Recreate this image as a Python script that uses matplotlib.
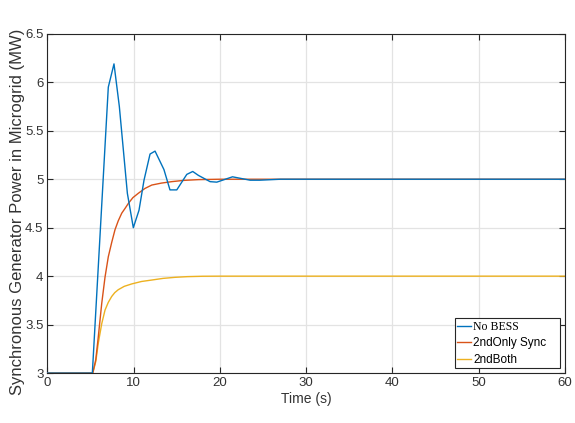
import matplotlib
matplotlib.use("Agg")
import matplotlib.pyplot as plt

# Synchronous generator output (MW) versus time (s)
t_nobess = [0, 5.2, 7.05, 7.71, 8.33, 9.26, 9.95, 10.61, 11.19, 11.89, 12.47,
            13.5, 14.2, 14.99, 16.15, 16.84, 17.49, 18.85, 19.63, 21.45,
            23.5, 24.6, 27.0, 60]
p_nobess = [3.0, 3.0, 5.95, 6.19, 5.75, 4.855, 4.50, 4.68, 4.99, 5.26, 5.29,
            5.10, 4.89, 4.89, 5.05, 5.08, 5.04, 4.975, 4.97, 5.025,
            4.99, 4.99, 5.0, 5.0]

t_only = [0, 5.25, 5.6, 5.89, 6.29, 6.67, 7.05, 7.45, 7.83, 8.2, 8.61, 9.0,
          9.37, 9.9, 10.53, 11.3, 12.09, 13.2, 14.4, 15.8, 17.5, 20.0, 60]
p_only = [3.0, 3.0, 3.14, 3.375, 3.72, 3.99, 4.20, 4.35, 4.48, 4.57, 4.65,
          4.70, 4.75, 4.81, 4.855, 4.905, 4.94, 4.96, 4.975, 4.988, 4.996,
          5.0, 5.0]

t_both = [0, 5.25, 5.6, 5.89, 6.29, 6.67, 7.05, 7.44, 7.8, 8.2, 8.9, 9.77,
          10.9, 12.09, 13.4, 14.8, 16.2, 18.0, 20.0, 60]
p_both = [3.0, 3.0, 3.12, 3.31, 3.51, 3.65, 3.73, 3.79, 3.83, 3.86, 3.895,
          3.92, 3.945, 3.96, 3.977, 3.988, 3.995, 3.999, 4.0, 4.0]

labels = ["No BESS", "2ndOnly Sync", "2ndBoth"]
colors = ["#0072BD", "#D95319", "#EDB120"]

x_ticks = [0, 10, 20, 30, 40, 50, 60]
y_ticks = [3, 3.5, 4, 4.5, 5, 5.5, 6, 6.5]
y_ticklabels = ["3", "3.5", "4", "4.5", "5", "5.5", "6", "6.5"]

plt.rcParams["font.family"] = ["Liberation Sans", "DejaVu Sans"]

fig = plt.figure(figsize=(5.75, 4.23), dpi=100)
ax = fig.add_axes([0.0826, 0.118, 0.9000, 0.802])

ax.plot(t_nobess, p_nobess, color=colors[0], lw=1.0, label=labels[0], zorder=4)
ax.plot(t_only, p_only, color=colors[1], lw=1.0, label=labels[1], zorder=3)
ax.plot(t_both, p_both, color=colors[2], lw=1.0, label=labels[2], zorder=2)

ax.set_xlim(0, 60)
ax.set_ylim(3, 6.5)
ax.set_xticks(x_ticks)
ax.set_yticks(y_ticks)
ax.set_yticklabels(y_ticklabels)

ax.grid(True, color="#e3e3e3", lw=0.9)
ax.set_axisbelow(True)
ax.tick_params(direction="in", top=True, right=True, length=4, width=0.8,
               color="#262626", labelsize=9.5, labelcolor="#333333", pad=3)
for s in ax.spines.values():
    s.set_color("#262626")
    s.set_linewidth(0.8)

ax.set_xlabel("Time (s)", fontsize=10, color="#333333", labelpad=2)
ax.set_ylabel("Synchronous Generator Power in Microgrid (MW)", fontsize=12,
              color="#333333")
ax.yaxis.set_label_coords(-0.043, 0.475)

# Legend box stretched to a fixed width, entries left-aligned inside it
leg = ax.legend(loc="lower left", bbox_to_anchor=(0.787, 0.015, 0.203, 0.16),
                mode="expand", borderaxespad=0, fontsize=8.5,
                handlelength=1.2, handletextpad=0.15, labelspacing=0.38,
                borderpad=0.2, fancybox=False, framealpha=1,
                edgecolor="#262626")
leg.get_frame().set_linewidth(0.8)
leg.get_texts()[0].set_family(["Liberation Serif", "DejaVu Serif"])
leg.get_texts()[0].set_fontsize(8.5)

fig.savefig("out.png", dpi=100)
